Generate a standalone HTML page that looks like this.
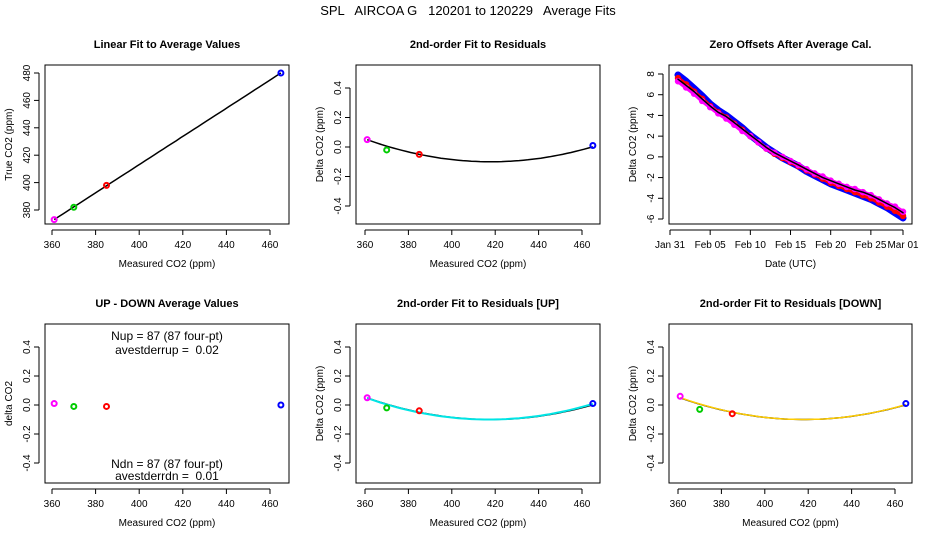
<!DOCTYPE html>
<html><head><meta charset="utf-8"><style>
body{margin:0;background:#fff}
svg{display:block;font-family:"Liberation Sans",Arial,sans-serif}
</style></head><body>
<svg id="c" width="936" height="540" viewBox="0 0 936 540">
<text x="468" y="15" text-anchor="middle" font-size="13" style="white-space:pre">SPL   AIRCOA G   120201 to 120229   Average Fits</text>
</svg>
<script>
// ---- data ----
const calX = [361, 370, 385, 465];
const calColors = ['#ff00ff', '#00cc00', '#ff0000', '#0000ff'];
const trueY = [373, 382, 398, 480];
const residY = [0.05, -0.02, -0.05, 0.01];
const residUpY = [0.05, -0.02, -0.04, 0.01];
const residDnY = [0.06, -0.03, -0.06, 0.01];
const updownY = [0.01, -0.01, -0.01, 0.0];
const linFit = [1.6, 1.0288];           // intercept, slope
const quadFit = [0.0000460, 418, -0.10]; // a, vertex x, vertex y
const quadUpFit = [0.0000470, 417, -0.10];
const quadDnFit = [0.0000465, 418, -0.10];
const xTicks = [360, 380, 400, 420, 440, 460];
const trueTicks = [380, 400, 420, 440, 460, 480];
const residTicks = [-0.4, -0.2, 0.0, 0.2, 0.4];
const days = [1,2,3,4,5,6,7,8,9,10,11,12,13,14,15,16,17,18,19,20,21,22,23,24,25,26,27,28,29];
const offBase = [7.5,6.9,6.3,5.6,4.9,4.3,3.9,3.3,2.7,2.1,1.5,0.9,0.4,0.0,-0.4,-0.8,-1.2,-1.6,-2.0,-2.3,-2.6,-2.9,-3.2,-3.4,-3.7,-4.1,-4.5,-4.9,-5.4];
const offBlue = [7.9,7.3,6.6,5.9,5.1,4.5,4.0,3.4,2.8,2.1,1.5,0.9,0.4,-0.1,-0.5,-0.9,-1.4,-1.8,-2.2,-2.6,-2.9,-3.2,-3.5,-3.8,-4.1,-4.5,-4.9,-5.4,-5.9];
const offRed = [7.6,7.0,6.3,5.6,4.9,4.3,3.8,3.2,2.6,2.0,1.4,0.8,0.3,-0.1,-0.5,-0.9,-1.3,-1.7,-2.1,-2.5,-2.8,-3.1,-3.4,-3.7,-4.0,-4.4,-4.8,-5.2,-5.7];
const offMag = [7.3,6.7,6.1,5.4,4.8,4.2,3.7,3.1,2.5,2.0,1.4,0.8,0.4,0.0,-0.4,-0.8,-1.2,-1.6,-1.9,-2.3,-2.6,-2.9,-3.1,-3.4,-3.7,-4.1,-4.5,-4.8,-5.3];
const dayTicks = [0,5,10,15,20,25,29];
const dayLabels = ['Jan 31','Feb 05','Feb 10','Feb 15','Feb 20','Feb 25','Mar 01'];
const offTicks = [-6,-4,-2,0,2,4,6,8];

const NS='http://www.w3.org/2000/svg', svg=document.getElementById('c');
function mk(tag, attrs, parent){const e=document.createElementNS(NS,tag);for(const k in attrs)e.setAttribute(k,attrs[k]);(parent||svg).appendChild(e);return e;}
function txt(s,attrs,parent){const e=mk('text',attrs,parent);e.textContent=s;return e;}
function lin(d0,d1,p0,p1){return v=>p0+(v-d0)*(p1-p0)/(d1-d0);}

function panel(name,bx0,by0,bx1,by1,title,xlab,ylab,sx,sy,xt,xtl,yt,ytl){
  const g=mk('g',{});
  
  
  const r=mk('rect',{x:bx0,y:by0,width:bx1-bx0,height:by1-by0,fill:'none',stroke:'#000','stroke-width':1},g);
  
  const t=txt(title,{x:(bx0+bx1)/2,y:by0-17,'text-anchor':'middle','font-size':11,'font-weight':'bold'},g);
  
  const xl=txt(xlab,{x:(bx0+bx1)/2,y:by1+43,'text-anchor':'middle','font-size':10},g);
  
  const yx=bx0-33, yy=(by0+by1)/2;
  const yl=txt(ylab,{x:yx,y:yy,'text-anchor':'middle','font-size':10,transform:`rotate(-90 ${yx} ${yy})`},g);
  
  const xa=mk('g',{},g);
  mk('line',{x1:sx(xt[0]),x2:sx(xt[xt.length-1]),y1:by1+6,y2:by1+6,stroke:'#000'},xa);
  xt.forEach((v,i)=>{const x=sx(v);mk('line',{x1:x,x2:x,y1:by1+6,y2:by1+11,stroke:'#000'},xa);
    const l=txt(xtl[i],{x:x,y:by1+24,'text-anchor':'middle','font-size':10},xa);});
  const ya=mk('g',{},g);
  mk('line',{x1:bx0-6,x2:bx0-6,y1:sy(yt[0]),y2:sy(yt[yt.length-1]),stroke:'#000'},ya);
  yt.forEach((v,i)=>{const y=sy(v);mk('line',{x1:bx0-11,x2:bx0-6,y1:y,y2:y,stroke:'#000'},ya);
    const px=bx0-15;const l=txt(ytl[i],{x:px,y:y,'text-anchor':'middle','font-size':10,transform:`rotate(-90 ${px} ${y})`},ya);
    });
  return g;
}
function pts(g,sx,sy,xs,ys){xs.forEach((x,i)=>{const c=mk('circle',{cx:sx(x),cy:sy(ys[i]),r:2.5,fill:'none',stroke:calColors[i],'stroke-width':2},g);
  });}
function curve(g,sx,sy,f,col,w,name){let d='';for(let x=361;x<=465;x+=2){d+=(d?'L':'M')+sx(x).toFixed(1)+','+sy(f(x)).toFixed(1);}
  const p=mk('path',{d:d,fill:'none',stroke:col,'stroke-width':w},g);}
const q=c=>x=>c[0]*(x-c[1])*(x-c[1])+c[2];
const xtl=xTicks.map(String), rtl=residTicks.map(v=>v.toFixed(1));

// Panel 1
let sx=lin(360,460,52,270), sy=lin(380,480,210,73);
let g=panel('linear-fit-panel',45,65,289,224,'Linear Fit to Average Values','Measured CO2 (ppm)','True CO2 (ppm)',sx,sy,xTicks,xtl,trueTicks,trueTicks.map(String));
curve(g,sx,sy,x=>linFit[0]+linFit[1]*x,'#000',1.5,'fit-line');
pts(g,sx,sy,calX,trueY);

// Panel 2
sx=lin(360,460,365,582); sy=lin(0,0.4,147,88);
g=panel('residual-fit-panel',356,65,600,224,'2nd-order Fit to Residuals','Measured CO2 (ppm)','Delta CO2 (ppm)',sx,sy,xTicks,xtl,residTicks,rtl);
curve(g,sx,sy,q(quadFit),'#000',1.5,'quadratic-fit-line');
pts(g,sx,sy,calX,residY);

// Panel 3
let dx=lin(0,29,670,903), dy=lin(8,-6,74,219);
g=panel('zero-offsets-panel',669,65,912,224,'Zero Offsets After Average Cal.','Date (UTC)','Delta CO2 (ppm)',dx,dy,dayTicks,dayLabels,offTicks,offTicks.map(String));
[[offBlue,'#0000ff',7],[offRed,'#ff0000',4],[offMag,'#ff00ff',4],[offBase,'#000',1.5]].forEach(([arr,col,w],si)=>{
  const d=days.map((t,i)=>(i?'L':'M')+dx(t).toFixed(1)+','+dy(arr[i]).toFixed(1)).join('');
  const p=mk('path',{d:d,fill:'none',stroke:col,'stroke-width':w,'stroke-linejoin':'round','stroke-linecap':'round'},g);
  
  if(si<3)days.forEach((t,i)=>{const c=mk('circle',{cx:dx(t),cy:dy(arr[i]),r:2.5,fill:'none',stroke:col,'stroke-width':1.5},g);
    });
});

// Panel 4
sx=lin(360,460,52,270); sy=lin(0,0.4,405,347);
g=panel('up-down-panel',45,324,289,483,'UP - DOWN Average Values','Measured CO2 (ppm)','delta CO2',sx,sy,xTicks,xtl,residTicks,rtl);
[['Nup = 87 (87 four-pt)',336],['avestderrup =  0.02',350],['Ndn = 87 (87 four-pt)',464],['avestderrdn =  0.01',476]].forEach(([s,y])=>{
  const t=txt(s,{x:167,y:y+4,'text-anchor':'middle','font-size':12,style:'white-space:pre'},g);});
pts(g,sx,sy,calX,updownY);

// Panel 5
sx=lin(360,460,365,582);
g=panel('residual-up-panel',356,324,600,483,'2nd-order Fit to Residuals [UP]','Measured CO2 (ppm)','Delta CO2 (ppm)',sx,sy,xTicks,xtl,residTicks,rtl);
curve(g,sx,sy,q(quadFit),'#000',1.5,'quadratic-fit-line');
curve(g,sx,sy,q(quadUpFit),'#00e5e5',2,'up-fit-line');
pts(g,sx,sy,calX,residUpY);

// Panel 6
sx=lin(360,460,678,895);
g=panel('residual-down-panel',669,324,912,483,'2nd-order Fit to Residuals [DOWN]','Measured CO2 (ppm)','Delta CO2 (ppm)',sx,sy,xTicks,xtl,residTicks,rtl);
curve(g,sx,sy,q(quadFit),'#000',1.5,'quadratic-fit-line');
curve(g,sx,sy,q(quadDnFit),'#ffcc00',1.5,'down-fit-line');
pts(g,sx,sy,calX,residDnY);
</script>
</body></html>
